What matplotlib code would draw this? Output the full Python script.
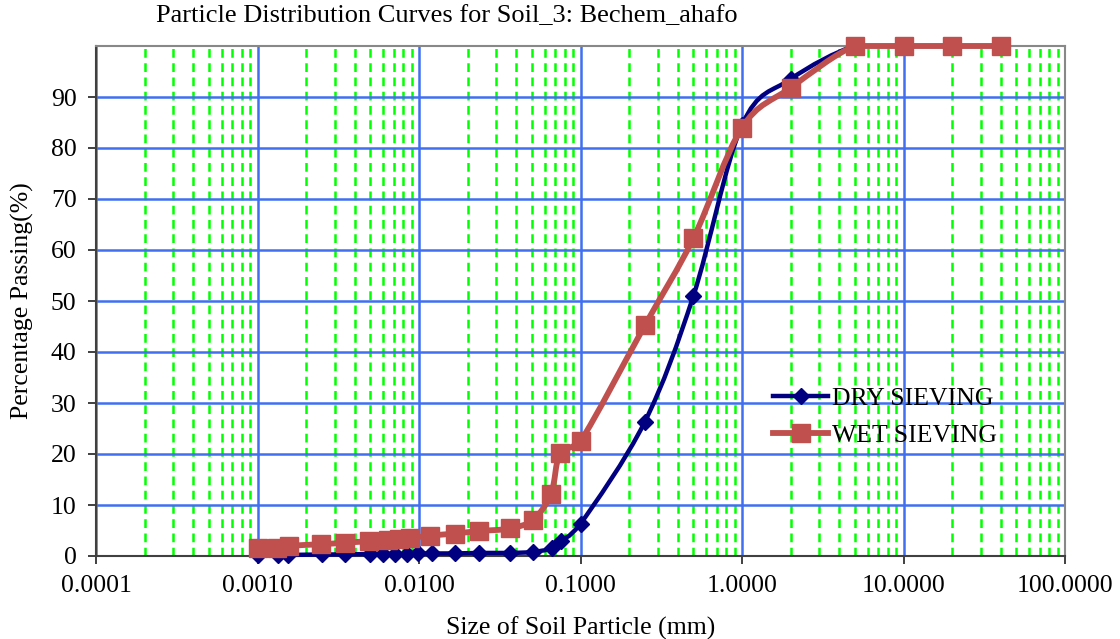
import numpy as np
import matplotlib
matplotlib.use("Agg")
import matplotlib.pyplot as plt
from matplotlib.path import Path
from matplotlib.patches import PathPatch
from matplotlib.ticker import LogLocator, FuncFormatter, NullFormatter

plt.rcParams['font.family'] = ['Liberation Serif', 'DejaVu Serif']

# data
dry_size = [0.001, 0.00133, 0.00155, 0.0025, 0.00348, 0.00497, 0.00598, 0.0071, 0.00843,
            0.0099, 0.012, 0.0167, 0.0235, 0.0366, 0.0508, 0.0662, 0.0757, 0.1,
            0.25, 0.5, 1.0, 2.0, 5.0, 10.0, 20.0, 40.0]
dry_pass = [0.2, 0.2, 0.2, 0.3, 0.3, 0.4, 0.4, 0.4, 0.4,
            0.5, 0.5, 0.5, 0.6, 0.6, 0.8, 1.5, 3.0, 6.3,
            26.3, 51.0, 84.5, 93.5, 100, 100, 100, 100]

wet_size = [0.001, 0.00132, 0.00157, 0.00246, 0.00348, 0.0049, 0.00643, 0.0075, 0.0088,
            0.0117, 0.0167, 0.0235, 0.0366, 0.0508, 0.0657, 0.0747, 0.1,
            0.25, 0.5, 1.0, 2.0, 5.0, 10.0, 20.0, 40.0]
wet_pass = [1.5, 1.6, 2.0, 2.3, 2.6, 2.9, 3.1, 3.3, 3.5,
            4.0, 4.4, 4.9, 5.4, 7.1, 12.2, 20.2, 22.5,
            45.2, 62.3, 84.0, 91.8, 100, 100, 100, 100]

DRY_C = '#000080'
WET_C = '#C0504D'
FS = 18.5


def smooth_path(xs, ys):
    # Excel-like smoothed line: cubic bezier through the points, built in log-x space
    lx = np.log10(xs)
    y = np.asarray(ys, float)
    sx, sy = 161.5, 5.1
    P = np.column_stack([lx * sx, y * sy])
    n = len(P)
    verts = [P[0]]
    codes = [Path.MOVETO]
    for i in range(n - 1):
        p0 = P[i - 1] if i > 0 else P[i]
        p1, p2 = P[i], P[i + 1]
        p3 = P[i + 2] if i + 2 < n else P[i + 1]
        c1 = p1 + (p2 - p0) / 6.0
        c2 = p2 - (p3 - p1) / 6.0
        # keep the curve from overshooting the segment ends
        lo, hi = min(p1[1], p2[1]), max(p1[1], p2[1])
        c1[1] = np.clip(c1[1], lo, hi)
        c2[1] = np.clip(c2[1], lo, hi)
        verts += [c1, c2, p2]
        codes += [Path.CURVE4] * 3
    V = np.array(verts)
    V = np.column_stack([10 ** (V[:, 0] / sx), V[:, 1] / sy])
    return Path(V, codes)


fig = plt.figure(figsize=(11.2, 6.39), dpi=100)
ax = fig.add_axes([96 / 1120, 1 - 556 / 639, (1065 - 96) / 1120, (556 - 46) / 639])

ax.set_xscale('log')
ax.set_xlim(1e-4, 100)
ax.set_ylim(0, 100)

ax.xaxis.set_major_locator(LogLocator(base=10, numticks=10))
ax.xaxis.set_minor_locator(LogLocator(base=10, subs=np.arange(2, 10), numticks=20))
ax.xaxis.set_major_formatter(FuncFormatter(lambda v, p: f"{v:.4f}"))
ax.xaxis.set_minor_formatter(NullFormatter())
ax.set_yticks(np.arange(0, 100, 10))

ax.grid(which='major', axis='both', color='#4070F0', lw=1.8, ls='-', zorder=1)
ax.grid(which='minor', axis='x', color='#00FF00', lw=1.8, ls=(0, (3.5, 2.2)), zorder=1)
ax.set_axisbelow(True)

for s in ax.spines.values():
    s.set_color('#888888')
    s.set_linewidth(1.5)
ax.spines['bottom'].set_color('#404040')
ax.spines['left'].set_color('#404040')

ax.tick_params(axis='both', which='major', labelsize=FS, length=6, width=1.2, color='#202020', pad=8)
ax.tick_params(axis='x', which='minor', length=0)

# dry sieving
ax.add_patch(PathPatch(smooth_path(dry_size, dry_pass), fill=False, ec=DRY_C, lw=3.2, zorder=3, clip_on=False))
ax.plot(dry_size, dry_pass, ls='none', marker='D', ms=8, color=DRY_C, zorder=3, clip_on=False)

# wet sieving
ax.add_patch(PathPatch(smooth_path(wet_size, wet_pass), fill=False, ec=WET_C, lw=4.2, zorder=4, clip_on=False))
ax.plot(wet_size, wet_pass, ls='none', marker='s', ms=13, color=WET_C, zorder=4, clip_on=False)

# legend handles
h1, = ax.plot([], [], color=DRY_C, lw=3.2, marker='D', ms=8, label='DRY SIEVING')
h2, = ax.plot([], [], color=WET_C, lw=4.2, marker='s', ms=13, label='WET SIEVING')
ax.legend(handles=[h1, h2], loc='upper left', bbox_to_anchor=(0.688, 0.352), frameon=False,
          fontsize=FS, handlelength=2.15, handletextpad=0.15, labelspacing=0.55, borderaxespad=0)

fig.text(447 / 1120, 1 - 16 / 639, 'Particle Distribution Curves for Soil_3: Bechem_ahafo',
         ha='center', va='center', fontsize=19)
ax.set_xlabel('Size of Soil Particle (mm)', fontsize=FS, labelpad=14)
ax.set_ylabel('Percentage Passing(%)', fontsize=FS, labelpad=12)

fig.savefig('out.png', dpi=100)
